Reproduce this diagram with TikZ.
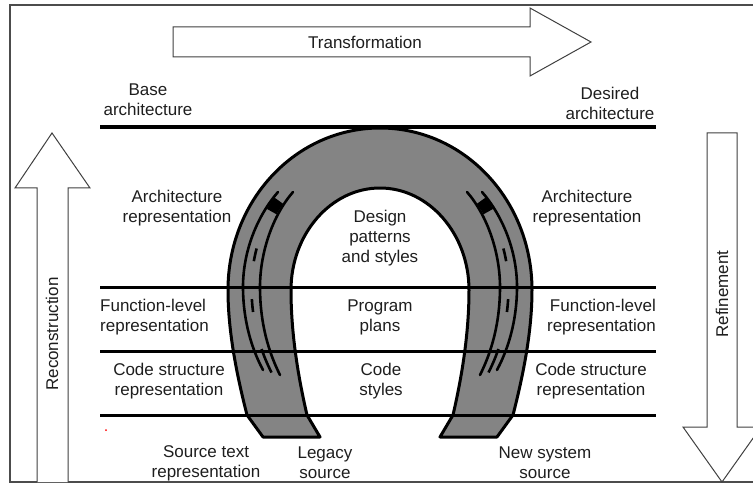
\documentclass[tikz,border=0pt]{standalone}
\usepackage{fontspec}
\setmainfont{Liberation Sans}
\usetikzlibrary{positioning}
\definecolor{shoegray}{HTML}{848484}
\definecolor{inkgray}{HTML}{1E1E1E}
\tikzset{
    lbl/.style = {align=center, text=inkgray, inner sep=0pt, font=\fontsize{17}{20}\selectfont},
    lbll/.style = {lbl, align=left},
    lblr/.style = {lbl, align=right},
    levelline/.style = {line width=3pt, black},
    topline/.style = {line width=4pt, black},
    bigarrow/.style = {draw=black!75, line width=1pt, fill=white, line join=miter},
    shoe/.style = {draw=black, line width=3pt, fill=shoegray, line join=round},
    rail/.style = {line width=2.6pt, black, line cap=round},
    railmark/.style = {line width=2.6pt, black, dash pattern=on 0pt off 64pt on 13pt off 38pt on 13pt off 38pt on 40pt}, % marks
    railknot/.style = {line width=11pt, black, dash pattern=on 0pt off 11pt on 13pt off 400pt}, % top
    frame/.style = {draw=black!70, line width=1.2pt}
}

\begin{document}
\begin{tikzpicture}[x=1pt, y=-1pt]
  \useasboundingbox (0,0) rectangle (753,484);

  % frame
  \draw[frame] (753,5) -- (10,5) -- (10,482) -- (753,482);

  % block arrows
  \draw[bigarrow] (173,27) -- (530,27) -- (530,8) -- (591,42) -- (530,76) -- (530,57) -- (173,57) -- cycle;
  \node[lbl] (trans) at (365,42) {Transformation};
  \draw[bigarrow] (37,482) -- (37,188) -- (15,188) -- (52,133) -- (90,188) -- (68,188) -- (68,482);
  \node[lbl, rotate=90] (recon) at (52,334) {Reconstruction};
  \draw[bigarrow] (707,133) -- (737,133) -- (737,427) -- (761,427) -- (722,482) -- (683,427) -- (707,427) -- cycle;
  \node[lbl, rotate=90] (refine) at (722,294) {Refinement};

  % horseshoe
  \draw[shoe] (263,437) -- (247,415)
    .. controls (236,372) and (228,330) .. (228,290)
    .. controls (228,200) and (296,128) .. (380,128)
    .. controls (464,128) and (532,200) .. (532,290)
    .. controls (532,330) and (524,372) .. (513,415)
    -- (497,437) -- (440,437) -- (453,415)
    .. controls (463,372) and (469,330) .. (469,290)
    .. controls (469,234) and (429,188) .. (380,188)
    .. controls (331,188) and (291,234) .. (291,290)
    .. controls (291,330) and (297,372) .. (307,415)
    -- (320,437) -- cycle;

  % level lines
  \coordinate (l0w) at (100,127);
  \coordinate (l0e) at (656,127);
  \draw[topline] (l0w) -- (l0e);
  \foreach \y/\n in {287/1, 351/2, 415/3} {
    \coordinate (l\n w) at (100,\y);
    \coordinate (l\n e) at (656,\y);
    \draw[levelline] (l\n w) -- (l\n e);
  }

  % rails, left and mirrored
  \foreach \s/\d in {1/0, -1/760} {
    \begin{scope}[xshift=\d pt, xscale=\s]
      \draw[rail] (278,192) .. controls (258,215) and (243,250) .. (243,287)
        .. controls (243,312) and (248,342) .. (263,370);
      \draw[rail] (293,192) .. controls (273,215) and (260,252) .. (260,287)
        .. controls (260,315) and (265,345) .. (280,375);
      \draw[railknot] (285.5,192) .. controls (265.5,215) and (251.5,251) .. (251.5,287);
      \draw[railmark] (285.5,192) .. controls (265.5,215) and (251.5,251) .. (251.5,287)
        .. controls (251.5,313) and (256.5,343) .. (271.5,372.5);
    \end{scope}
  }

  % labels
  \node[lbl] (base) at (148,100) {Base\\architecture};
  \node[lbl] (desired) at (610,103) {Desired\\architecture};
  \node[lbl] (archL) at (177,208) {Architecture\\representation};
  \node[lbl] (archR) at (587,208) {Architecture\\representation};
  \node[lbl] (design) at (380,238) {Design\\patterns\\and styles};
  \node[lbll, anchor=west] (funcL) at (100,317) {Function-level\\representation};
  \node[lblr, anchor=east] (funcR) at (656,317) {Function-level\\representation};
  \node[lbl] (plans) at (380,317) {Program\\plans};
  \node[lbl] (codeL) at (169,381) {Code structure\\representation};
  \node[lbl] (codeR) at (591,381) {Code structure\\representation};
  \node[lbl] (cstyles) at (381,381) {Code\\styles};
  \node[lbl] (srcL) at (206,463) {Source text\\representation};
  \node[lbl] (legacy) at (325,463) {Legacy\\source};
  \node[lbl] (newsys) at (545,463) {New system\\source};

  \fill[red] (106,430) circle (1pt);
\end{tikzpicture}
\end{document}
